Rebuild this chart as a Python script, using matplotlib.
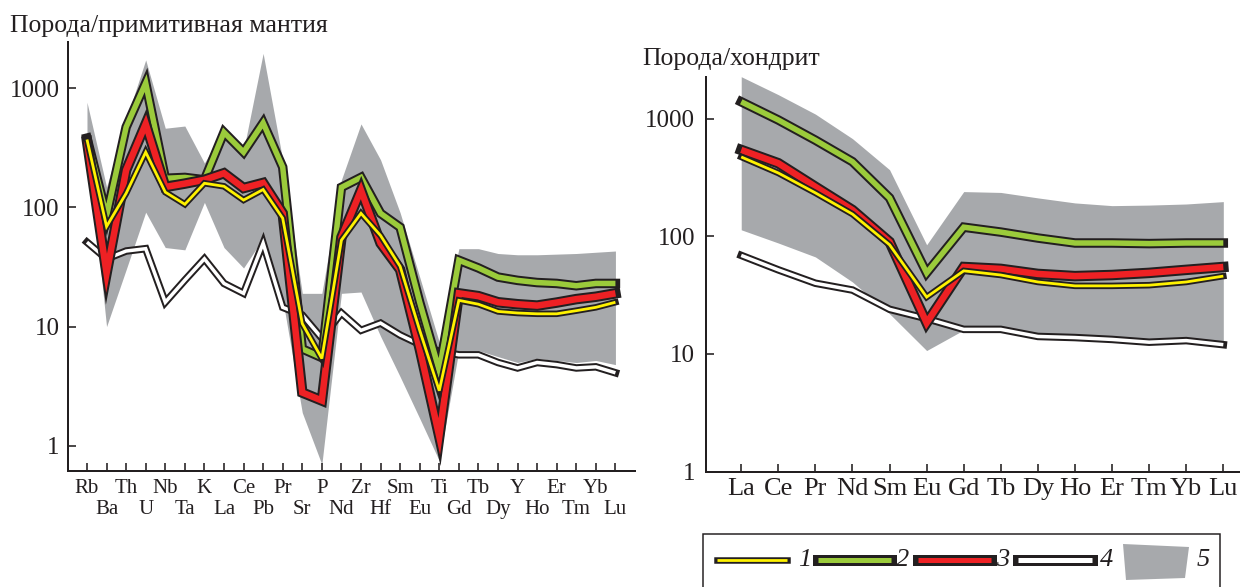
import matplotlib
matplotlib.use('Agg')
import matplotlib.pyplot as plt
from matplotlib.lines import Line2D
from matplotlib.patches import Rectangle, Polygon
from matplotlib.ticker import FixedLocator, NullLocator

plt.rcParams['font.family'] = ['Liberation Serif', 'DejaVu Serif']

# --- data: primitive-mantle normalised spidergram ---
pm_elements = ['Rb', 'Ba', 'Th', 'U', 'Nb', 'Ta', 'K', 'La', 'Ce', 'Pb', 'Pr', 'Sr', 'P', 'Nd',
               'Zr', 'Hf', 'Sm', 'Eu', 'Ti', 'Gd', 'Tb', 'Dy', 'Y', 'Ho', 'Er', 'Tm', 'Yb', 'Lu']
pm_1 = [370, 69, 131, 290, 134, 106, 159, 150, 115, 141, 81, 10.6, 5.4, 53,
        89, 58, 32, 9.3, 2.9, 16.6, 15.4, 13.4, 13, 12.8, 12.8, 13.6, 14.5, 16]
pm_2 = [380, 85, 470, 1100, 175, 178, 170, 425, 290, 510, 217, 6.5, 5.5, 147,
        178, 89, 68, 16, 4.3, 36, 31, 26, 24.4, 23.4, 23, 22, 23, 23]
pm_3 = [360, 28, 205, 500, 148, 158, 170, 193, 145, 160, 89, 2.8, 2.4, 56,
        139, 50, 30, 6.5, 1.2, 19, 18, 16, 15.4, 15, 15.9, 17, 17.8, 19]
pm_4 = [51, 37, 43, 45, 16, 24.5, 37, 23, 19, 50, 14.5, 12.5, 8, 13,
        9.3, 10.7, 8.5, 7.1, 6.2, 5.8, 5.8, 5.0, 4.5, 5.0, 4.8, 4.5, 4.6, 4.1]
pm_lo = [380, 10, 30, 91, 46, 44, 110, 46, 31, 55, 17, 1.9, 0.7, 19,
         19.5, 8.3, 3.8, 1.7, 0.75, 6.3, 6.3, 5.6, 5.0, 5.4, 5.2, 5.0, 5.2, 4.8]
pm_hi = [760, 148, 540, 1720, 460, 480, 235, 450, 300, 1950, 250, 19, 19, 170,
         500, 250, 90, 26, 7.4, 45, 45, 41, 40, 40, 40.5, 41, 42, 43]

# --- data: chondrite normalised REE ---
ree = ['La', 'Ce', 'Pr', 'Nd', 'Sm', 'Eu', 'Gd', 'Tb', 'Dy', 'Ho', 'Er', 'Tm', 'Yb', 'Lu']
ch_1 = [475, 347, 235, 155, 85, 30.5, 51, 47, 41, 38, 38, 38.5, 41, 46]
ch_2 = [1400, 980, 660, 433, 213, 49, 120, 109, 97, 88, 88, 87, 88, 88]
ch_3 = [545, 420, 265, 168, 90, 18.4, 55, 53, 48, 46, 47, 49, 52, 55]
ch_4 = [69, 52, 40, 35, 24, 20, 16.2, 16.2, 14.1, 13.8, 13.3, 12.6, 13, 12]
ch_lo = [114, 88, 67, 41, 22, 10.7, 16, 16, 14.5, 13.8, 13.3, 12.6, 13, 13]
ch_hi = [2290, 1610, 1100, 680, 370, 85, 241, 237, 213, 193, 183, 185, 189, 198]

BLACK = '#231f20'
GRAY = '#a7a9ac'
YELLOW = '#fff200'
GREEN = '#9bcb3b'
RED = '#ee2124'
WHITE = '#ffffff'

W, H = 1240, 587
PX = 0.72  # points per pixel at dpi 100

# (colour, outer width px, inner width px)
styles = [(WHITE, 7.5, 3.5), (GREEN, 9.5, 5.5), (RED, 10.5, 6.5), (YELLOW, 6.5, 2.8)]


def draw(ax, x, y, color, wo, wi):
    ax.plot(x, y, color=BLACK, lw=wo * PX, solid_joinstyle='miter',
            solid_capstyle='projecting')
    ax.plot(x, y, color=color, lw=wi * PX, solid_joinstyle='miter',
            solid_capstyle='butt')


def style_axes(ax):
    ax.set_yscale('log')
    ax.yaxis.set_major_locator(FixedLocator([1, 10, 100, 1000]))
    ax.yaxis.set_minor_locator(NullLocator())
    ax.set_yticklabels(['1', '10', '100', '1000'])
    for s in ['top', 'right']:
        ax.spines[s].set_visible(False)
    for s in ['left', 'bottom']:
        ax.spines[s].set_linewidth(2 * PX)
        ax.spines[s].set_color(BLACK)
    ax.tick_params(direction='in', length=8 * PX, width=1.6 * PX, color=BLACK,
                   labelcolor=BLACK)
    ax.tick_params(axis='y', labelsize=18, pad=6)


fig = plt.figure(figsize=(12.4, 5.87), dpi=100)

# left panel
ax1 = fig.add_axes([68 / W, 1 - 471 / H, (635 - 68) / W, (471 - 42) / H])
x1 = list(range(len(pm_elements)))
ax1.fill_between(x1, pm_lo, pm_hi, color=GRAY, lw=0)
for (c, wo, wi), ys in zip(styles, [pm_4, pm_2, pm_3, pm_1]):
    draw(ax1, x1, ys, c, wo, wi)
ax1.set_xlim(-0.97, 28)
ax1.set_ylim(0.616, 2430)
style_axes(ax1)
ax1.set_xticks(x1)
ax1.set_xticklabels(pm_elements, fontsize=15)
# two staggered rows of element names
for i, tick in enumerate(ax1.xaxis.get_major_ticks()):
    tick.set_pad(6 if i % 2 == 0 else 21)
fig.text(10 / W, 1 - 32 / H, 'Порода/примитивная мантия', fontsize=18.5,
         ha='left', va='baseline', color=BLACK)

# right panel
ax2 = fig.add_axes([706 / W, 1 - 471.5 / H, (1240 - 706) / W, (471.5 - 77) / H])
x2 = list(range(len(ree)))
ax2.fill_between(x2, ch_lo, ch_hi, color=GRAY, lw=0)
for (c, wo, wi), ys in zip(styles, [ch_4, ch_2, ch_3, ch_1]):
    draw(ax2, x2, ys, c, wo, wi)
ax2.set_xlim(-0.95, 13.45)
ax2.set_ylim(1, 2276)
style_axes(ax2)
ax2.set_xticks(x2)
ax2.set_xticklabels(ree, fontsize=19)
ax2.tick_params(axis='x', pad=5)
ax2.tick_params(axis='y', pad=8)
fig.text(642 / W, 1 - 65 / H, 'Порода/хондрит', fontsize=18.5,
         ha='left', va='baseline', color=BLACK)

# legend
def fx(p):
    return p / W


def fy(p):
    return 1 - p / H


fig.add_artist(Rectangle((fx(703), fy(600)), fx(1220) - fx(703), fy(534) - fy(600),
                         transform=fig.transFigure, fill=False, ec=BLACK,
                         lw=1.5 * PX, clip_on=False))
legend_items = [(YELLOW, 6.5, 2.8, 717, 787, 805, '1'),
                (GREEN, 11, 5, 818, 891, 903, '2'),
                (RED, 11, 5, 918, 991, 1003, '3'),
                (WHITE, 11, 5, 1018, 1092, 1107, '4')]
ly = 560
for c, wo, wi, x0, x1_, xt, lab in legend_items:
    fig.add_artist(Line2D([fx(x0), fx(x1_)], [fy(ly), fy(ly)], transform=fig.transFigure,
                          color=BLACK, lw=wo * PX, solid_capstyle='projecting'))
    fig.add_artist(Line2D([fx(x0), fx(x1_)], [fy(ly), fy(ly)], transform=fig.transFigure,
                          color=c, lw=wi * PX, solid_capstyle='butt'))
    fig.text(fx(xt), fy(ly), lab, fontsize=19, style='italic', ha='center',
             va='center', color=BLACK)
fig.add_artist(Polygon([(fx(1123), fy(544)), (fx(1189), fy(547)), (fx(1185), fy(578)),
                        (fx(1126), fy(580))], closed=True, transform=fig.transFigure,
                       fc=GRAY, ec='none'))
fig.text(fx(1203), fy(ly), '5', fontsize=19, style='italic', ha='center',
         va='center', color=BLACK)

fig.savefig('out.png', dpi=100)
